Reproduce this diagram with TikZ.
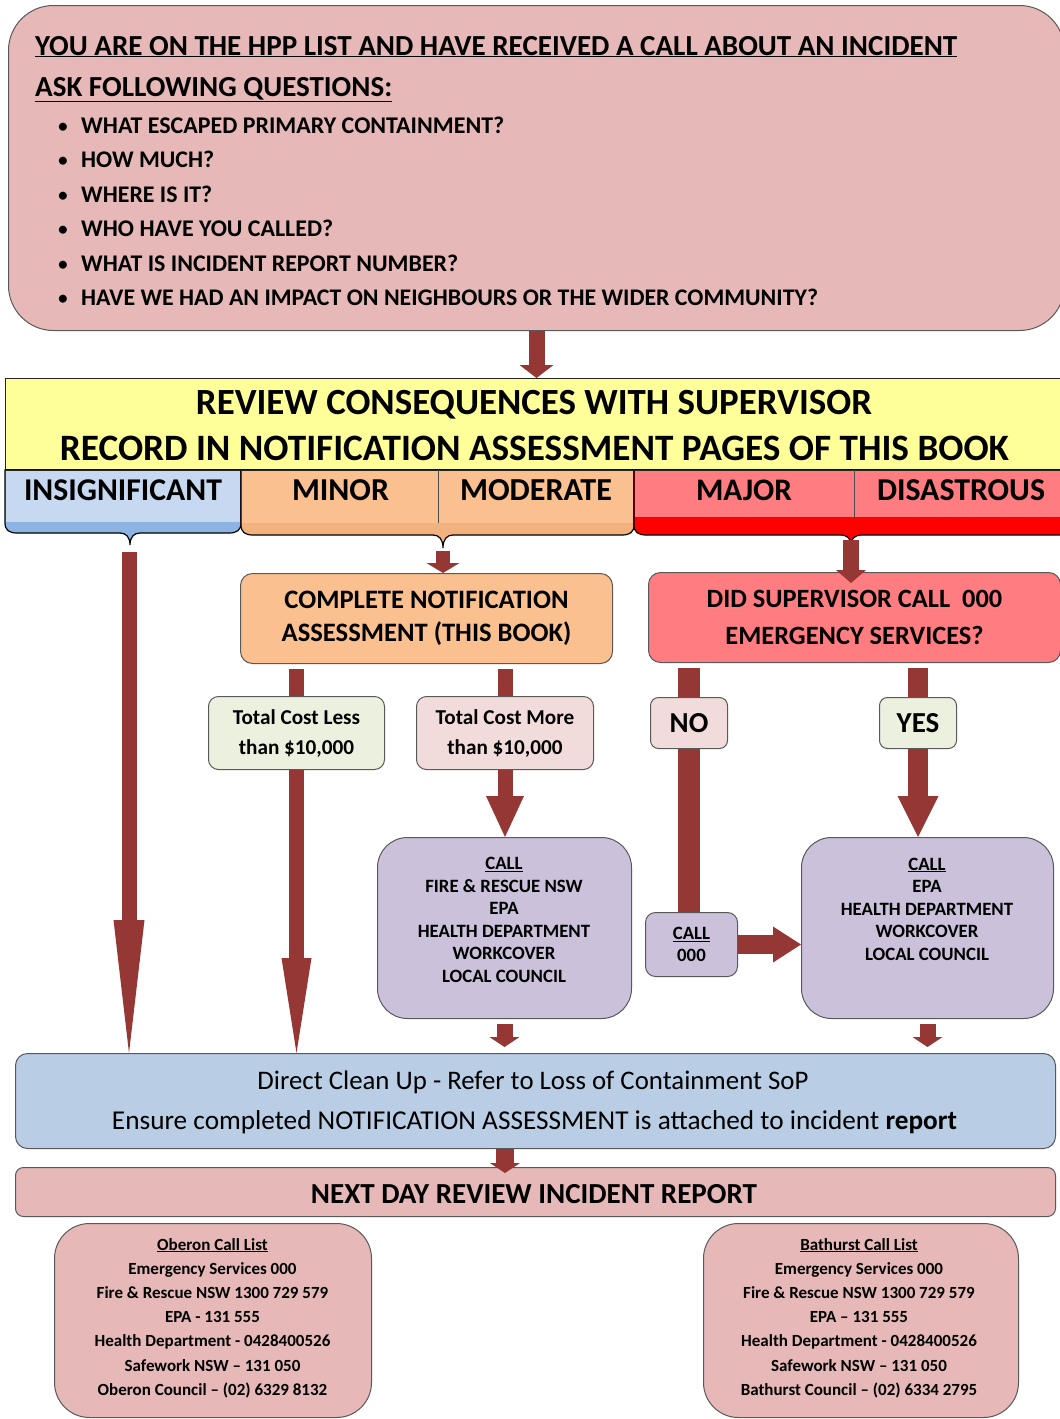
\documentclass[tikz,border=0pt]{standalone}
\usepackage{fontspec}
\setmainfont{Carlito}
\usepackage{graphicx}
\usetikzlibrary{arrows.meta}
\definecolor{pinkbox}{HTML}{E6B8B7}
\definecolor{yellowbox}{HTML}{FFFF99}
\definecolor{insig}{HTML}{C6D9F1}
\definecolor{insigband}{HTML}{8DB3E2}
\definecolor{orangebox}{HTML}{FAC08F}
\definecolor{orangeband}{HTML}{F2B27E}
\definecolor{redbox}{HTML}{FF7C80}
\definecolor{redband}{HTML}{FF0000}
\definecolor{lessbox}{HTML}{EBF1DE}
\definecolor{morebox}{HTML}{F2DCDB}
\definecolor{callbox}{HTML}{CCC1DA}
\definecolor{cleanbox}{HTML}{B9CDE5}
\definecolor{arrowred}{HTML}{953735}
\definecolor{edgegray}{HTML}{595959}
\newcommand\fsz[2]{\fontsize{#1}{#2}\selectfont}
\newcommand\fitw[2]{\resizebox{#1pt}{!}{#2}}
% x0, x1, tipx, bandtop, bottom, tipy, maincolor, bandcolor
\newcommand\catcell[8]{%
 \path[fill=#8, draw=black, line width=1.2pt] (#1,470) -- (#1,#5-10) .. controls (#1,#5-3) and (#1+4,#5) .. (#1+12,#5) -- (#3-10,#5) .. controls (#3-4,#5) and (#3,#5+4) .. (#3,#6) .. controls (#3,#5+4) and (#3+4,#5) .. (#3+10,#5) -- (#2-12,#5) .. controls (#2-4,#5) and (#2,#5-3) .. (#2,#5-10) -- (#2,470) -- cycle;
 \fill[#7] (#1+0.6,470) rectangle (#2-0.6,#4);
}
\begin{document}
\begin{tikzpicture}[x=1pt,y=-1pt,
 box/.style={draw=edgegray, line width=1pt, rounded corners=12pt, anchor=north west, inner sep=0pt, align=center, font=\bfseries},
 txt/.style={inner sep=0pt, anchor=base, font=\bfseries},
 txtl/.style={inner sep=0pt, anchor=base west, font=\bfseries},
 shaft/.style={arrowred, line width=#1},
 bigarrow/.style args={#1/#2/#3}{arrowred, line width=#1, -{Triangle[width=#2, length=#3, line width=0pt]}},
]
\clip (0,0) rectangle (1060,1419);
\fill[white] (0,0) rectangle (1060,1419);

% ---------- top box ----------
\node[box, fill=pinkbox, rounded corners=45pt, minimum width=1056pt, minimum height=325pt] (top) at (8,5) {};
\node[txtl] (h1) at (35,55) {\fitw{922}{\fsz{28}{34}\bfseries\underline{YOU ARE ON THE HPP LIST AND HAVE RECEIVED A CALL ABOUT AN INCIDENT}}};
\node[txtl] (h2) at (35,96) {\fitw{357}{\fsz{28}{34}\bfseries\underline{ASK FOLLOWING QUESTIONS:}}};
\foreach \w/\t/\yy [count=\i] in {423/WHAT ESCAPED PRIMARY CONTAINMENT?/133, 133/HOW MUCH?/167, 131/WHERE IS IT?/202, 252/WHO HAVE YOU CALLED?/236, 377/WHAT IS INCIDENT REPORT NUMBER?/271, 737/HAVE WE HAD AN IMPACT ON NEIGHBOURS OR THE WIDER COMMUNITY?/305}{
 \node[txt, font=\fsz{22.5}{27}] (b\i) at (63,\yy) {\textbullet};
 \node[txtl] (q\i) at (81,\yy) {\fitw{\w}{\fsz{22.5}{27}\bfseries \t}};
}

% ---------- review band ----------
\node[draw=black!85, line width=1pt, fill=yellowbox, anchor=north west, minimum width=1065pt, minimum height=91pt, inner sep=0pt] (review) at (5,378) {};
\node[txt] (r1) at (534,414) {\fitw{676}{\fsz{30}{36}\bfseries REVIEW CONSEQUENCES WITH SUPERVISOR}};
\node[txt] (r2) at (534.5,460) {\fitw{949}{\fsz{30}{36}\bfseries RECORD IN NOTIFICATION ASSESSMENT PAGES OF THIS BOOK}};

% ---------- category cells ----------
\catcell{5}{241}{130}{522}{533}{545}{insig}{insigband}
\catcell{241}{634}{443}{523}{535}{548}{orangebox}{orangeband}
\catcell{634}{1070}{851}{517}{535}{544}{redbox}{redband}
\draw[black!85, line width=1pt] (5,470) -- (1070,470);
\draw[black!70, line width=0.8pt] (438,470) -- (438,523);
\draw[black!70, line width=0.8pt] (854,470) -- (854,517);
\node[txt] (cI) at (123,500) {\fitw{198}{\fsz{30}{36}\bfseries INSIGNIFICANT}};
\node[txt] (cMi) at (340.5,500) {\fitw{97}{\fsz{30}{36}\bfseries MINOR}};
\node[txt] (cMo) at (536,500) {\fitw{152}{\fsz{30}{36}\bfseries MODERATE}};
\node[txt] (cMa) at (744,500) {\fitw{96}{\fsz{30}{36}\bfseries MAJOR}};
\node[txt] (cD) at (961,500) {\fitw{168}{\fsz{30}{36}\bfseries DISASTROUS}};
\coordinate (tipI) at (129,552);
\coordinate (tipO) at (443,551);
\coordinate (tipR) at (851,540);
\coordinate (tipR2) at (851,583);

% ---------- middle boxes ----------
\node[box, fill=orangebox, minimum width=372pt, minimum height=90pt, font=\bfseries\fsz{26.6}{33}] (complete) at (240,573) {COMPLETE NOTIFICATION\\ASSESSMENT (THIS BOOK)};
\node[box, fill=redbox, minimum width=412pt, minimum height=90pt, font=\bfseries\fsz{26.4}{37}] (did) at (648,572) {DID SUPERVISOR CALL~~000\\EMERGENCY SERVICES?};
\node[box, fill=lessbox, rounded corners=10pt, minimum width=176pt, minimum height=73pt, font=\bfseries\fsz{21.2}{30}] (costL) at (208,696) {Total Cost Less\\than \$10,000};
\node[box, fill=morebox, rounded corners=10pt, minimum width=177pt, minimum height=73pt, font=\bfseries\fsz{21.2}{30}] (costM) at (416,696) {Total Cost More\\than \$10,000};
\node[box, fill=morebox, rounded corners=8pt, minimum width=77pt, minimum height=51pt, font=\bfseries\fsz{29}{35}] (no) at (650,697) {NO};
\node[box, fill=lessbox, rounded corners=8pt, minimum width=77pt, minimum height=51pt, font=\bfseries\fsz{29}{35}] (yes) at (879,697) {YES};

\node[box, fill=callbox, rounded corners=30pt, minimum width=254pt, minimum height=181pt] (callL) at (377,837) {};
\node[inner sep=0pt, align=center, font=\bfseries\fsz{18.8}{22.5}] (callLt) at (504,920) {\underline{CALL}\\FIRE \& RESCUE NSW\\EPA\\HEALTH DEPARTMENT\\WORKCOVER\\LOCAL COUNCIL};
\node[box, fill=callbox, rounded corners=30pt, minimum width=252pt, minimum height=181pt] (callR) at (801,837) {};
\node[inner sep=0pt, align=center, font=\bfseries\fsz{18.8}{22.5}] (callRt) at (927,909) {\underline{CALL}\\EPA\\HEALTH DEPARTMENT\\WORKCOVER\\LOCAL COUNCIL};
\node[box, fill=callbox, rounded corners=10pt, minimum width=92pt, minimum height=64pt, font=\bfseries\fsz{18.8}{22}] (c000) at (645,912) {\underline{CALL}\\000};

% ---------- bottom boxes ----------
\node[box, fill=cleanbox, minimum width=1040pt, minimum height=95pt] (clean) at (15,1053) {};
\node[txt] (cl1) at (533,1089) {\fitw{551}{\fsz{27}{32}\mdseries Direct Clean Up - Refer to Loss of Containment SoP}};
\node[txt] (cl2) at (534.5,1129) {\fitw{845}{\fsz{27}{32}\mdseries Ensure completed NOTIFICATION ASSESSMENT is attached to incident \textbf{report}}};
\node[box, fill=pinkbox, rounded corners=8pt, minimum width=1040pt, minimum height=49pt] (next) at (15,1167) {};
\node[txt] (nx) at (534,1203) {\fitw{446}{\fsz{25}{30}\bfseries NEXT DAY REVIEW INCIDENT REPORT}};

\node[box, fill=pinkbox, rounded corners=35pt, minimum width=317pt, minimum height=194pt] (ober) at (54,1223) {};
\node[inner sep=0pt, align=center, font=\bfseries\fsz{17}{24.2}] (obert) at (212.5,1318) {\underline{Oberon Call List}\\Emergency Services 000\\Fire \& Rescue NSW 1300 729 579\\EPA - 131 555\\Health Department - 0428400526\\Safework NSW -- 131 050\\Oberon Council -- (02) 6329 8132};
\node[box, fill=pinkbox, rounded corners=35pt, minimum width=315pt, minimum height=194pt] (bath) at (703,1223) {};
\node[inner sep=0pt, align=center, font=\bfseries\fsz{17}{24.2}] (batht) at (859,1318) {\underline{Bathurst Call List}\\Emergency Services 000\\Fire \& Rescue NSW 1300 729 579\\EPA -- 131 555\\Health Department - 0428400526\\Safework NSW -- 131 050\\Bathurst Council -- (02) 6334 2795};

% ---------- connectors ----------
\draw[bigarrow=16pt/34pt/13pt] (top.south) -- (top.south |- review.north);
\draw[bigarrow=15pt/31pt/133pt] (tipI) -- (tipI |- clean.north);
\draw[bigarrow=14pt/33pt/10pt] (tipO) -- (tipO |- complete.north);
\draw[bigarrow=16pt/30pt/13pt] (tipR) -- (tipR2);

\draw[shaft=15pt, shorten <=5pt] (complete.south -| costL.north) -- (costL.north);
\draw[bigarrow=15pt/30pt/95pt] (costL.south) -- (costL.south |- clean.north);
\draw[shaft=15pt, shorten <=5pt] (complete.south -| costM.north) -- (costM.north);
\draw[bigarrow=15pt/38pt/41pt] (costM.south) -- (costM.south |- callL.north);

\draw[shaft=22pt, shorten <=5pt] (did.south -| no.north) -- (no.north);
\draw[shaft=22pt] (no.south) -- (no.south |- c000.north);
\draw[shaft=20pt, shorten <=5pt] (did.south -| yes.north) -- (yes.north);
\draw[bigarrow=20pt/41pt/41pt] (yes.south) -- (yes.south |- callR.north);
\draw[bigarrow=19pt/36pt/28pt] (c000.east) -- (c000.east -| callR.west);

\draw[bigarrow=16pt/30pt/10pt, shorten <=5pt, shorten >=6pt] (callL.south) -- (callL.south |- clean.north);
\draw[bigarrow=16pt/30pt/10pt, shorten <=5pt, shorten >=6pt] (callR.south) -- (callR.south |- clean.north);
\draw[bigarrow=18pt/30pt/10pt, shorten >=-6pt] (clean.south -| costM.south) -- (costM.south |- next.north);
\end{tikzpicture}
\end{document}
